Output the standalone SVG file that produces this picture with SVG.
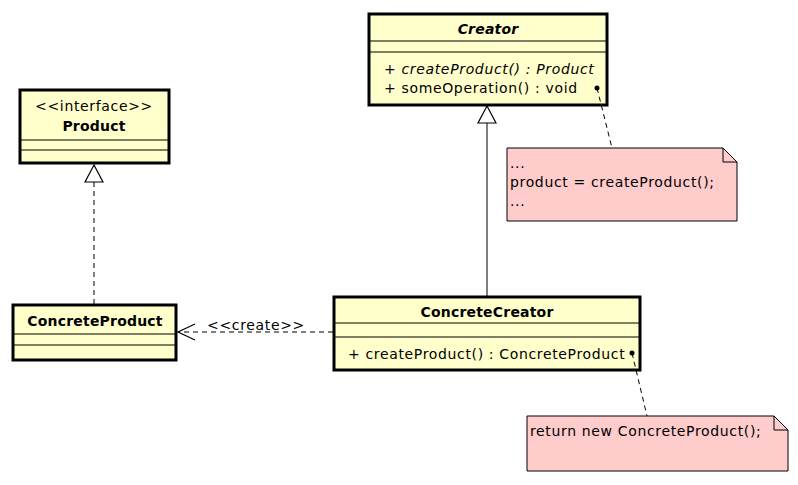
<svg xmlns="http://www.w3.org/2000/svg" width="798" height="485" viewBox="0 0 798 485">
<style>
.cls{fill:#ffffcc;stroke:#000;stroke-width:3}
.sep{stroke:#000;stroke-width:1;fill:none}
.note{fill:#ffcccc;stroke:#000;stroke-width:1}
text{font-family:"DejaVu Sans","Liberation Sans",sans-serif;font-size:14px;fill:#000;letter-spacing:0.65px}
.b{font-weight:bold;text-anchor:middle;letter-spacing:0.2px}
.c{text-anchor:middle}
.i{font-style:italic}
.ln{stroke:#000;stroke-width:1;fill:none}
.dash{stroke-dasharray:5,4}
</style>
<defs>
<marker id="tri" markerWidth="20" markerHeight="20" refX="17" refY="9" orient="auto" markerUnits="userSpaceOnUse" viewBox="-1 -1 20 20">
<path d="M17,9 L0,0 L0,18 Z" fill="#fff" stroke="#000" stroke-width="1.2"/>
</marker>
<marker id="open" markerWidth="20" markerHeight="20" refX="17" refY="9" orient="auto" markerUnits="userSpaceOnUse" viewBox="-1 -1 20 20">
<path d="M0,1 L17,9 L0,17" fill="none" stroke="#000" stroke-width="1.2"/>
</marker>
</defs>
<g id="Creator">
<rect class="cls" x="369" y="14" width="238" height="91"/>
<line class="sep" x1="369" y1="41" x2="607" y2="41"/>
<line class="sep" x1="369" y1="52" x2="607" y2="52"/>
<text x="488" y="34" class="b i">Creator</text>
<text x="384" y="74" class="i">+ createProduct() : Product</text>
<text x="384" y="93">+ someOperation() : void</text>
</g>
<g id="Product">
<rect class="cls" x="20" y="90" width="149" height="73"/>
<line class="sep" x1="20" y1="140" x2="169" y2="140"/>
<line class="sep" x1="20" y1="150" x2="169" y2="150"/>
<text x="94" y="111" class="c">&lt;&lt;interface&gt;&gt;</text>
<text x="94" y="131" class="b">Product</text>
</g>
<g id="ConcreteProduct">
<rect class="cls" x="13" y="305" width="163" height="55"/>
<line class="sep" x1="13" y1="334" x2="176" y2="334"/>
<line class="sep" x1="13" y1="345" x2="176" y2="345"/>
<text x="95" y="326" class="b">ConcreteProduct</text>
</g>
<g id="ConcreteCreator">
<rect class="cls" x="334" y="297" width="306" height="73"/>
<line class="sep" x1="334" y1="323" x2="640" y2="323"/>
<line class="sep" x1="334" y1="337" x2="640" y2="337"/>
<text x="487" y="317" class="b">ConcreteCreator</text>
<text x="348" y="359">+ createProduct() : ConcreteProduct</text>
</g>
<g id="note1">
<path class="note" d="M507,148 L723,148 L737,162 L737,221 L507,221 Z"/>
<path class="ln" d="M723,148 L723,162 L737,162"/>
<text x="510" y="168">...</text>
<text x="510" y="187">product = createProduct();</text>
<text x="510" y="206">...</text>
</g>
<g id="note2">
<path class="note" d="M527,416 L774,416 L788,430 L788,471 L527,471 Z"/>
<path class="ln" d="M774,416 L774,430 L788,430"/>
<text x="530" y="436">return new ConcreteProduct();</text>
</g>
<g id="connectors">
<line class="ln" x1="487" y1="296" x2="487" y2="106" marker-end="url(#tri)"/>
<line class="ln dash" x1="94" y1="304" x2="94" y2="165" marker-end="url(#tri)"/>
<line class="ln dash" x1="333" y1="332" x2="178" y2="332" marker-end="url(#open)"/>
<text x="256" y="330" class="c">&lt;&lt;create&gt;&gt;</text>
<line class="ln dash" x1="597" y1="88" x2="612" y2="148"/>
<circle cx="597" cy="88" r="2.5" fill="#000"/>
<line class="ln dash" x1="632" y1="353" x2="647" y2="416"/>
<circle cx="632" cy="353" r="2.5" fill="#000"/>
</g>
</svg>
